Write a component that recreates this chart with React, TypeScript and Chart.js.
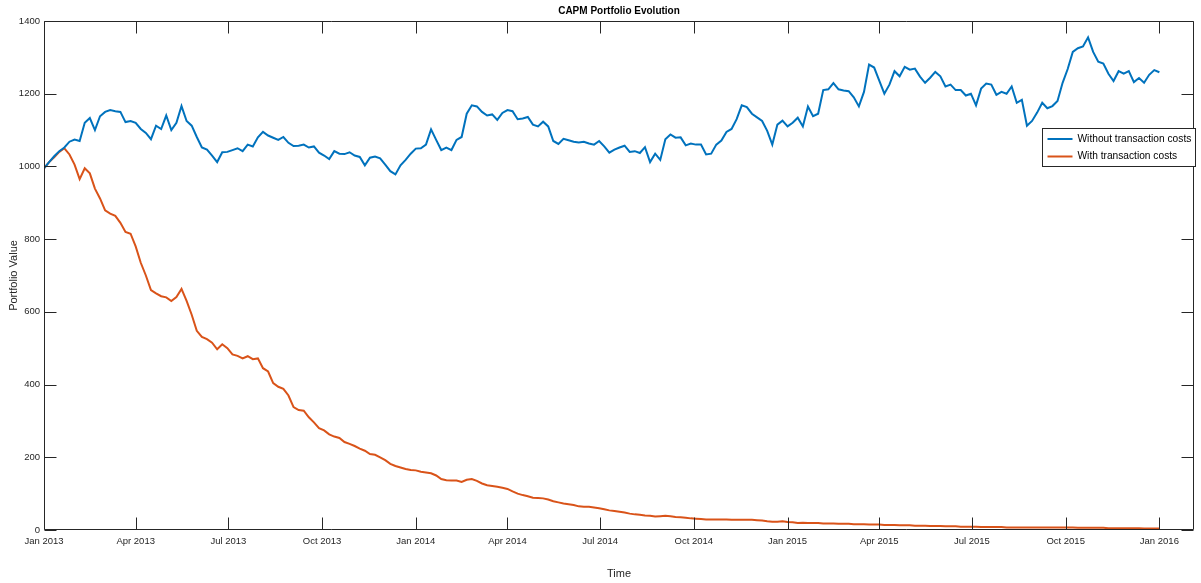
import React, { useEffect, useRef } from "react";
import { Chart, registerables } from "chart.js";

Chart.register(...registerables);

// Sampling step of the series (days since 1 Jan 2013)
const sampleStepDays = 5;

// Portfolio value without transaction costs
const withoutCosts: number[] = [
  995, 1012, 1028, 1042, 1052, 1068, 1074, 1070, 1120, 1133, 1100, 1138, 1150, 1155, 1152, 1150, 1122, 1125, 1120, 1103,
  1092, 1075, 1112, 1103, 1140, 1100, 1120, 1166, 1125, 1112, 1081, 1052, 1046, 1030, 1012, 1039, 1040, 1045, 1050,
  1042, 1060, 1055, 1080, 1095, 1085, 1079, 1073, 1081, 1065, 1056, 1057, 1060, 1052, 1055, 1038, 1030, 1020, 1042, 1035,
  1034, 1039, 1030, 1026, 1003, 1024, 1027, 1022, 1005, 987, 978, 1003, 1018, 1035, 1049, 1050, 1060, 1102,
  1073, 1045, 1052, 1045, 1073, 1081, 1145, 1168, 1165, 1150, 1140, 1143, 1128, 1147, 1155, 1152, 1130, 1132, 1136, 1115,
  1110, 1123, 1110, 1070, 1062, 1076, 1072, 1068, 1066, 1068, 1063, 1060, 1070, 1055, 1038, 1046, 1052, 1057,
  1040, 1042, 1037, 1053, 1012, 1035, 1018, 1075, 1088, 1079, 1080, 1058, 1063, 1060, 1060, 1033, 1035, 1060, 1071, 1095,
  1103, 1130, 1168, 1163, 1145, 1135, 1125, 1098, 1060, 1115, 1126, 1110, 1120, 1134, 1110, 1165, 1138, 1145, 1210,
  1212, 1229, 1212, 1209, 1207, 1190, 1165, 1205, 1280, 1272, 1236, 1200, 1225, 1262, 1248, 1274, 1266, 1269, 1247, 1230,
  1244, 1260, 1248, 1220, 1225, 1210, 1210, 1195, 1200, 1168, 1214, 1228, 1225, 1197, 1205, 1200, 1220, 1175,
  1183, 1112, 1125, 1148, 1175, 1160, 1166, 1180, 1230, 1268, 1315, 1325, 1330, 1355, 1315, 1288, 1283, 1255, 1235, 1262,
  1255, 1262, 1232, 1243, 1230, 1252, 1265, 1259,
];

// Portfolio value with transaction costs
const withCosts: number[] = [
  995, 1012, 1025, 1040, 1050, 1033, 1005, 965, 995, 981, 939, 912, 879, 870, 864, 845, 820, 815, 780, 735,
  700, 660, 651, 643, 640, 630, 641, 663, 630, 592, 548, 531, 525, 515,
  497, 511, 500, 483, 479, 472, 478, 470, 472, 445, 436, 404, 394, 388, 370, 338, 330, 328, 310, 296,
  280, 274, 263, 257, 253, 242, 237, 231, 224, 218, 209, 207, 200, 192, 182, 176, 172, 168, 165, 164,
  160, 158, 156, 150, 140,
  137, 136, 136, 132, 138, 140, 135, 128, 123, 121, 119, 116, 113, 106, 100, 96, 93, 89, 88, 87,
  84, 79, 76, 73, 71, 69, 65, 64, 64, 62, 60, 57, 54, 52, 50, 48, 45, 43, 42, 40,
  39, 37, 38, 39, 38, 36, 35, 34, 32, 31, 30, 29, 29, 29, 29, 29, 28, 28, 28, 28,
  28, 27, 26, 24, 23, 23, 24, 22, 21, 19,
  20, 19, 19, 19, 18, 18, 18, 17, 17, 17, 16, 16, 16, 15, 15, 15, 14, 14, 14, 13,
  13, 13, 12, 12, 12, 11, 11, 11, 10, 10, 10, 9, 9, 9, 9, 8, 8, 8, 8, 8,
  7, 7, 7, 7, 7, 7, 7, 7, 7, 7, 7, 7, 7, 7, 6, 6, 6, 6, 6, 6,
  5, 5, 5, 5, 5, 5, 5, 4, 4, 4, 4,
];

// Quarter ticks (days since 1 Jan 2013) and their labels
const tickDays: number[] = [0, 90, 181, 273, 365, 455, 546, 638, 730, 820, 911, 1003, 1095];
const tickLabels: string[] = [
  "Jan 2013", "Apr 2013", "Jul 2013", "Oct 2013",
  "Jan 2014", "Apr 2014", "Jul 2014", "Oct 2014",
  "Jan 2015", "Apr 2015", "Jul 2015", "Oct 2015", "Jan 2016",
];
const seriesLabels: string[] = ["Without transaction costs", "With transaction costs"];
const seriesColors: string[] = ["#0072BD", "#D95319"];

const titleText = "CAPM Portfolio Evolution";
const xTitle = "Time";
const yTitle = "Portfolio Value";

const FONT = "'Liberation Sans', Arial, Helvetica, sans-serif";
const AXIS_COLOR = "#262626";

const matlabPlugin = {
  id: "matlabDecor",
  afterDatasetsDraw(chart: any) {
    const { ctx, chartArea, scales } = chart;
    const { left, right, top, bottom } = chartArea;
    const x = scales.x;
    const y = scales.y;
    ctx.save();
    ctx.strokeStyle = AXIS_COLOR;
    ctx.lineWidth = 1;
    ctx.beginPath();
    const L = Math.round(left) + 0.5;
    const R = Math.round(right) - 0.5;
    const T = Math.round(top) + 0.5;
    const B = Math.round(bottom) - 0.5;
    ctx.rect(L, T, R - L, B - T);
    const len = 12;
    x.ticks.forEach((t: any) => {
      const px = Math.round(x.getPixelForValue(t.value)) + 0.5;
      ctx.moveTo(px, B);
      ctx.lineTo(px, B - len);
      ctx.moveTo(px, T);
      ctx.lineTo(px, T + len);
    });
    y.ticks.forEach((t: any) => {
      const py = Math.round(y.getPixelForValue(t.value)) + 0.5;
      ctx.moveTo(L, py);
      ctx.lineTo(L + len, py);
      ctx.moveTo(R, py);
      ctx.lineTo(R - len, py);
    });
    ctx.stroke();

    // title
    ctx.fillStyle = "#000";
    ctx.font = `bold 10px ${FONT}`;
    ctx.textAlign = "center";
    ctx.textBaseline = "middle";
    ctx.fillText(titleText, (left + right) / 2, 11);

    // legend
    const lx = 1042.5;
    const ly = 128.5;
    const lw = 153;
    const lh = 38;
    ctx.fillStyle = "#fff";
    ctx.fillRect(lx, ly, lw, lh);
    ctx.strokeStyle = AXIS_COLOR;
    ctx.lineWidth = 1;
    ctx.strokeRect(lx, ly, lw, lh);
    ctx.font = `10.2px ${FONT}`;
    ctx.textAlign = "left";
    chart.data.datasets.forEach((ds: any, i: number) => {
      const rowY = ly + 10.5 + i * 17.5;
      ctx.strokeStyle = ds.borderColor;
      ctx.lineWidth = 2;
      ctx.beginPath();
      ctx.moveTo(lx + 5, rowY);
      ctx.lineTo(lx + 30, rowY);
      ctx.stroke();
      ctx.fillStyle = "#000";
      ctx.fillText(ds.label, lx + 35, rowY);
    });
    ctx.restore();
  },
};

export default function App() {
  const canvasRef = useRef<HTMLCanvasElement | null>(null);

  useEffect(() => {
    const canvas = canvasRef.current;
    if (!canvas) return;
    const seriesList = [withoutCosts, withCosts];
    const datasets = seriesList.map((values, s) => ({
      label: seriesLabels[s],
      data: values.map((v, i) => ({ x: i * sampleStepDays, y: v })),
      borderColor: seriesColors[s],
      backgroundColor: seriesColors[s],
      borderWidth: 2,
      pointRadius: 0,
      tension: 0,
      fill: false,
    }));
    const chart = new Chart(canvas, {
      type: "line",
      data: { datasets },
      options: {
        animation: false,
        responsive: false,
        maintainAspectRatio: false,
        layout: { padding: { top: 21, right: 7, left: 0, bottom: 0 } },
        plugins: {
          legend: { display: false },
          title: { display: false },
          tooltip: { enabled: false },
        },
        scales: {
          x: {
            type: "linear",
            min: 0,
            max: 1129,
            grid: { display: false, drawTicks: false },
            border: { display: false },
            afterBuildTicks: (scale: any) => {
              scale.ticks = tickDays.map((v) => ({ value: v }));
            },
            afterFit: (scale: any) => {
              scale.height = 53;
            },
            ticks: {
              autoSkip: false,
              maxRotation: 0,
              padding: 6,
              color: AXIS_COLOR,
              font: { family: FONT, size: 9.5 },
              callback: (_v: any, index: number) => tickLabels[index],
            },
            title: {
              display: true,
              text: xTitle,
              color: AXIS_COLOR,
              font: { family: FONT, size: 11 },
              padding: { top: 0, bottom: 2 },
            },
          },
          y: {
            type: "linear",
            min: 0,
            max: 1400,
            grid: { display: false, drawTicks: false },
            border: { display: false },
            afterFit: (scale: any) => {
              scale.width = 44;
            },
            ticks: {
              stepSize: 200,
              padding: 4,
              color: AXIS_COLOR,
              font: { family: FONT, size: 9.5 },
              callback: (v: any) => String(v),
            },
            title: {
              display: true,
              text: yTitle,
              color: AXIS_COLOR,
              font: { family: FONT, size: 11 },
              padding: { top: 7, bottom: 0 },
            },
          },
        },
      },
      plugins: [matlabPlugin],
    });
    return () => chart.destroy();
  }, []);

  return (
    <div style={{ position: "fixed", left: 0, top: 0, width: 1201, height: 583, background: "#fff" }}>
      <canvas ref={canvasRef} width={1201} height={583} style={{ display: "block" }} />
    </div>
  );
}
